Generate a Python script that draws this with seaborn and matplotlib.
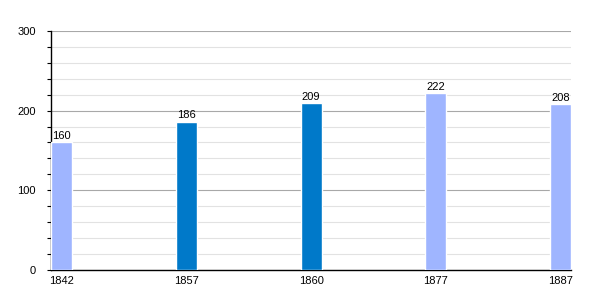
import matplotlib
matplotlib.use("Agg")
import matplotlib.pyplot as plt
import seaborn as sns
import pandas as pd
from matplotlib.ticker import MultipleLocator

years = ["1842", "1857", "1860", "1877", "1887"]
values = [160, 186, 209, 222, 208]
colors = ["#9fb5ff", "#0079c9", "#0079c9", "#9fb5ff", "#9fb5ff"]

sns.set_style("white")
plt.rcParams["font.family"] = ["Liberation Sans", "DejaVu Sans"]
plt.rcParams["text.color"] = "black"
plt.rcParams["xtick.color"] = "black"
plt.rcParams["ytick.color"] = "black"

df = pd.DataFrame({"year": years, "value": values})

fig = plt.figure(figsize=(6, 3), dpi=100)
ax = fig.add_axes([0.085, 0.1, 0.867, 0.797])

sns.barplot(data=df, x="year", y="value", hue="year", palette=colors,
            width=0.168, legend=False, ax=ax, saturation=1, zorder=3)

ax.set_ylim(0, 300)
ax.set_xlim(-0.084, 4.084)
ax.yaxis.set_major_locator(MultipleLocator(100))
ax.yaxis.set_minor_locator(MultipleLocator(20))
ax.grid(which="minor", axis="y", color="#e2e2e2", linewidth=0.8, zorder=0)
ax.grid(which="major", axis="y", color="#a8a8a8", linewidth=0.8, zorder=1)
ax.set_axisbelow(True)

for s in ["top", "right"]:
    ax.spines[s].set_visible(False)
for s in ["left", "bottom"]:
    ax.spines[s].set_color("black")
    ax.spines[s].set_linewidth(1)

ax.tick_params(axis="y", which="both", left=True, length=3, width=0.8,
               color="black", labelcolor="black", labelsize=8, pad=8)
ax.tick_params(axis="x", bottom=False, labelsize=8, pad=1, labelcolor="black")
ax.set_xlabel("")
ax.set_ylabel("")

for c in ax.containers:
    ax.bar_label(c, fontsize=8, padding=1, color="black")

fig.savefig("out.png", dpi=100)
